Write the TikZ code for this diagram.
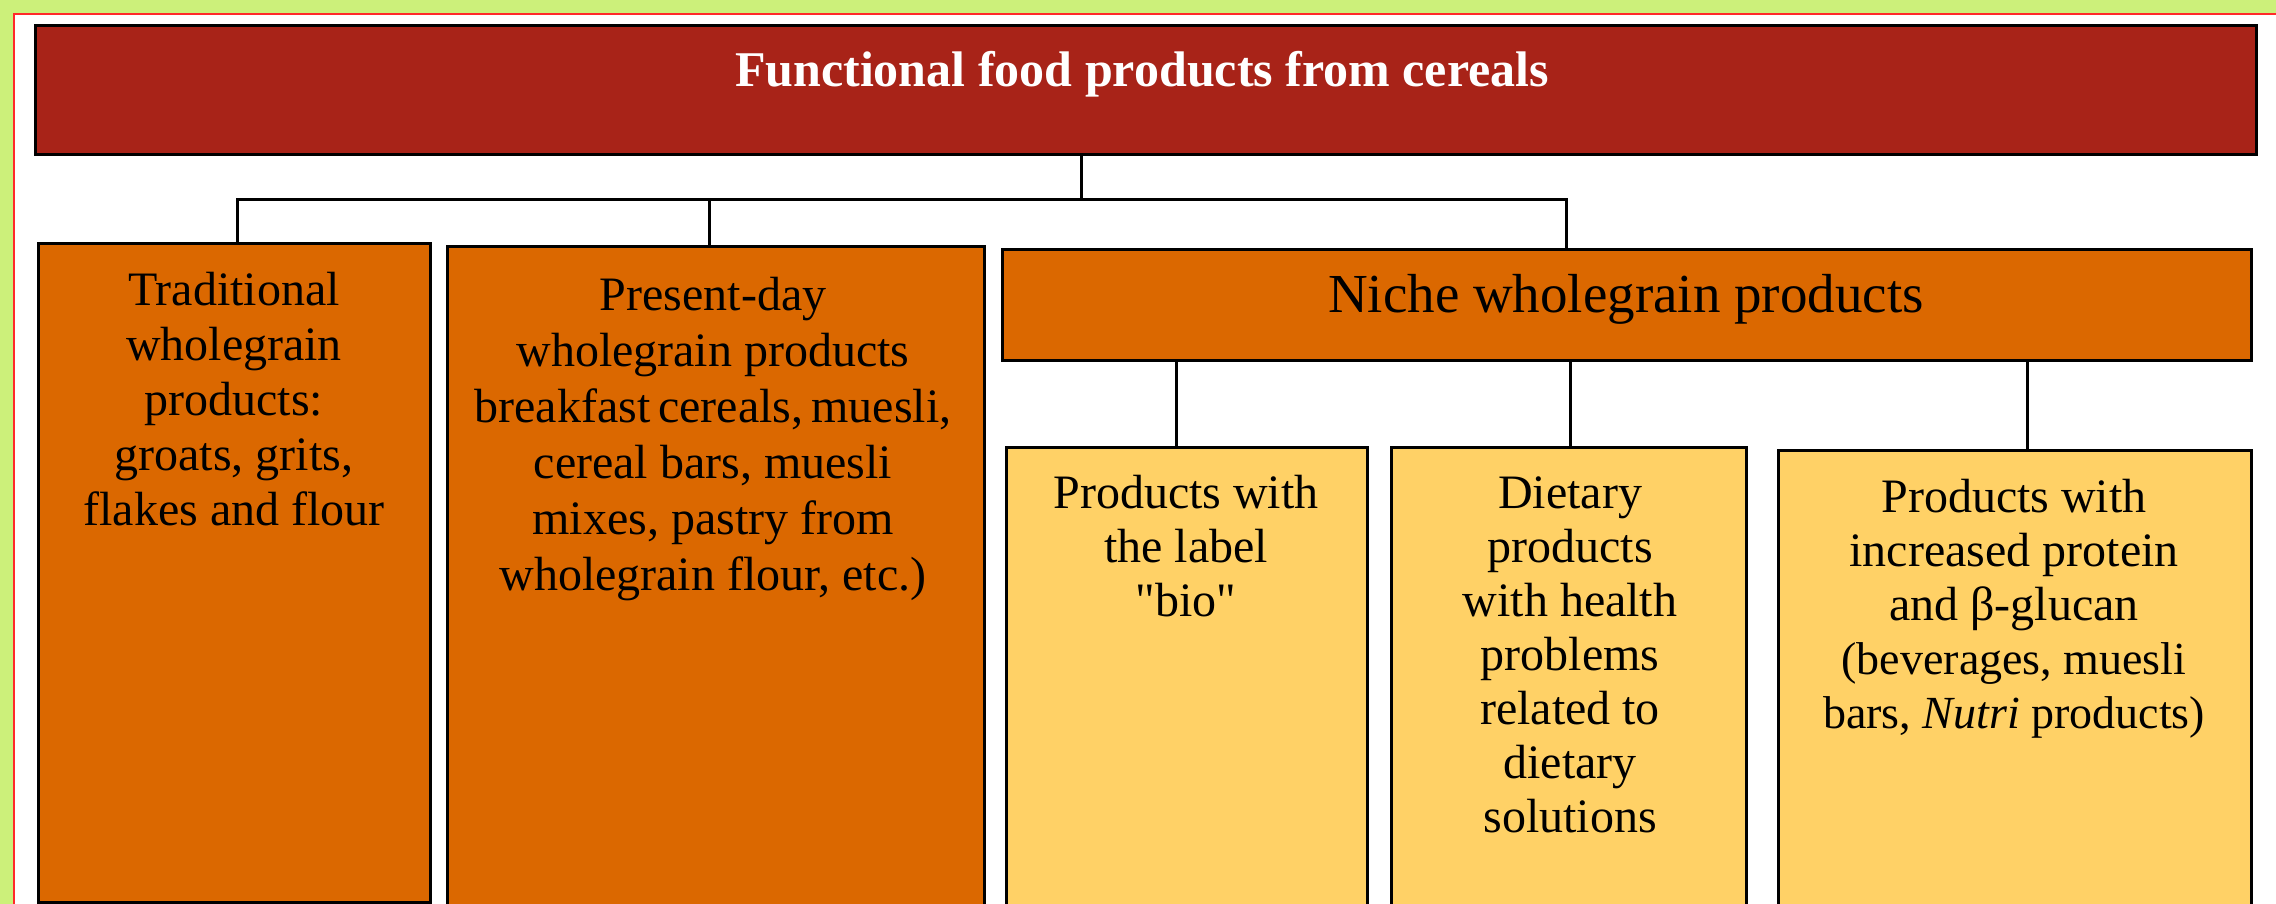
\documentclass[tikz,border=0pt]{standalone}
\usepackage{fontspec}
\setmainfont{Liberation Serif}
\usepackage{xcolor}
\usetikzlibrary{positioning}
\definecolor{titlered}{RGB}{168,35,24}
\definecolor{boxorange}{RGB}{219,104,0}
\definecolor{boxyellow}{RGB}{255,209,102}
\definecolor{pagegreen}{RGB}{204,240,122}
\definecolor{framered}{RGB}{255,42,42}

\begin{document}
\begin{tikzpicture}[
  x=1pt, y=-1pt,
  box/.style={draw,line width=3pt,inner sep=0pt},
  txt/.style={inner sep=0pt,align=center,font=\fontsize{48}{55}\selectfont},
  link/.style={line width=3pt}
]
  \useasboundingbox (0,0) rectangle (2276,904);
  \clip (0,0) rectangle (2276,904);
  \fill[pagegreen] (0,0) rectangle (2276,904);
  \draw[framered,fill=white,line width=2pt] (14,14) rectangle (2320,940);

  % boxes
  \node[box,fill=titlered,minimum width=2221pt,minimum height=129pt] (title) at (1145.5,90.5) {};
  \node[box,fill=boxorange,minimum width=392pt,minimum height=658pt] (trad) at (234,573) {};
  \node[box,fill=boxorange,minimum width=537pt,minimum height=680pt] (present) at (715.5,587) {};
  \node[box,fill=boxorange,minimum width=1249pt,minimum height=110pt] (niche) at (1626.5,305) {};
  \node[box,fill=boxyellow,minimum width=361pt,minimum height=480pt] (bio) at (1186.5,687) {};
  \node[box,fill=boxyellow,minimum width=355pt,minimum height=480pt] (dietary) at (1568.5,687) {};
  \node[box,fill=boxyellow,minimum width=473pt,minimum height=477pt] (protein) at (2014.5,688.5) {};

  % texts
  \node[txt,anchor=base,text=white,font=\fontsize{50}{55}\selectfont\bfseries] (titletxt) at (1142,87)
    {Functional food products from cereals};
  \node[txt,anchor=base,font=\fontsize{55}{60}\selectfont] (nichetxt) at (1626,312)
    {Niche wholegrain products};
  \node[txt,anchor=north] (tradtxt) at (234,272)
    {Traditional\\ wholegrain\\ products:\\ groats, grits,\\ flakes and flour};
  \node[txt,anchor=north,font=\fontsize{48}{56}\selectfont] (presenttxt) at (713,277)
    {Present-day\\ wholegrain products\\ {\spaceskip=8pt breakfast cereals, muesli,}\\ cereal bars, muesli\\ mixes, pastry from\\ wholegrain flour, etc.)};
  \node[txt,anchor=north,font=\fontsize{48}{54}\selectfont] (biotxt) at (1186,475)
    {Products with\\ the label\\ \textquotedbl bio\textquotedbl};
  \node[txt,anchor=north,font=\fontsize{48}{54}\selectfont] (dietarytxt) at (1570,477)
    {Dietary\\ products\\ with health\\ problems\\ related to\\ dietary\\ solutions};
  \node[txt,anchor=north,font=\fontsize{48}{54}\selectfont] (proteintxt) at (2014,479)
    {Products with\\ increased protein\\ and β-glucan\\ {\fontsize{46}{54}\selectfont (beverages, muesli}\\
     {\fontsize{46}{54}\selectfont bars, \textit{Nutri} products)}};

  % connectors
  \coordinate (hub) at (1081,200);
  \coordinate (bus1) at (237,200);
  \coordinate (bus2) at (709,200);
  \coordinate (bus3) at (1566,200);
  \draw[link] (hub |- title.south) -- (hub);
  \draw[link] (bus1 |- trad.north) -- (bus1) -- (bus3) -- (bus3 |- niche.north);
  \draw[link] (bus2) -- (bus2 |- present.north);
  \draw[link] ([xshift=-10pt]bio.north) -- ([xshift=-10pt]bio.north |- niche.south);
  \draw[link] ([xshift=2pt]dietary.north) -- ([xshift=2pt]dietary.north |- niche.south);
  \draw[link] ([xshift=13pt]protein.north) -- ([xshift=13pt]protein.north |- niche.south);
\end{tikzpicture}
\end{document}
